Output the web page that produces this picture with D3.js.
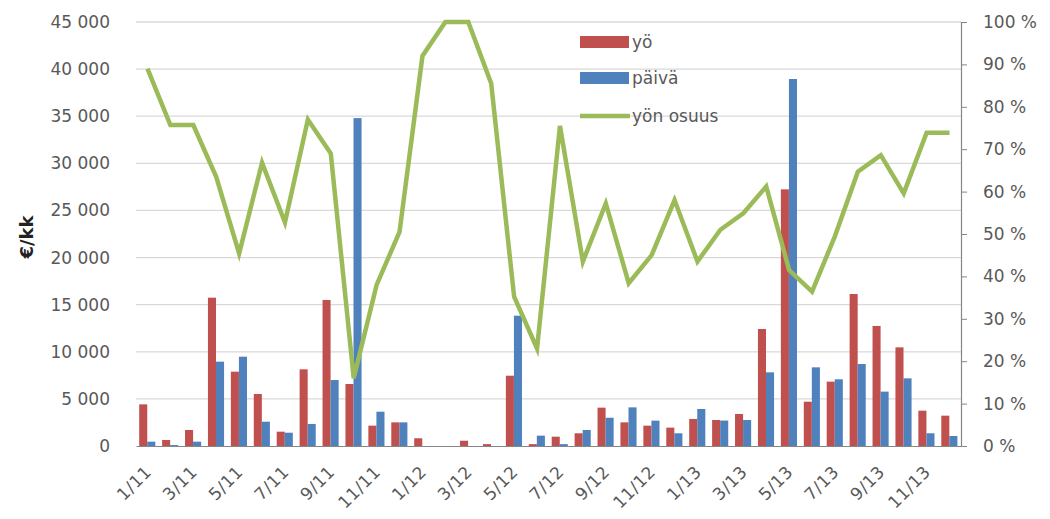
<!DOCTYPE html>
<html>
<head>
<meta charset="utf-8">
<script src="https://cdn.jsdelivr.net/npm/d3@7"></script>
<style>
  body { margin: 0; background: #fff; }
  svg text { font-family: "DejaVu Sans", Verdana, sans-serif; }
</style>
</head>
<body>
<div class="graph-bd" style="width:1050px;height:519px"></div>
<script>
// data
const months = [
    "1/11","2/11","3/11","4/11","5/11","6/11","7/11","8/11","9/11","10/11","11/11","12/11",
    "1/12","2/12","3/12","4/12","5/12","6/12","7/12","8/12","9/12","10/12","11/12","12/12",
    "1/13","2/13","3/13","4/13","5/13","6/13","7/13","8/13","9/13","10/13","11/13","12/13"
];
const yo = [
    4420, 640, 1700, 15740, 7890, 5520, 1520, 8140, 15500, 6580, 2160, 2510,
    820, 0, 560, 200, 7460, 200, 990, 1350, 4070, 2510, 2160, 1950,
    2870, 2760, 3400, 12420, 27240, 4700, 6830, 16130, 12740, 10470, 3750, 3220
];
const paiva = [
    460, 100, 460, 8950, 9480, 2580, 1410, 2340, 7000, 34800, 3640, 2510,
    0, 0, 0, 0, 13830, 1100, 200, 1700, 3000, 4100, 2690, 1350,
    3930, 2700, 2760, 7820, 38950, 8350, 7080, 8700, 5770, 7180, 1350, 1060
];
const yonOsuus = [
    0.89, 0.757, 0.757, 0.635, 0.454, 0.668, 0.527, 0.77, 0.69, 0.16, 0.38, 0.505,
    0.92, 1.0, 1.0, 0.855, 0.352, 0.23, 0.755, 0.435, 0.572, 0.384, 0.45, 0.58,
    0.435, 0.51, 0.549, 0.612, 0.415, 0.364, 0.495, 0.647, 0.686, 0.596, 0.739, 0.739
];
const leftTicks = [0, 5000, 10000, 15000, 20000, 25000, 30000, 35000, 40000, 45000];
const rightTicks = [0, 0.1, 0.2, 0.3, 0.4, 0.5, 0.6, 0.7, 0.8, 0.9, 1.0];
const seriesNames = ["yö", "päivä", "yön osuus"];

function run() {
    let root = document.querySelector('.graph-bd')
    let w = 1050, h = 519
    let left = 136, right = 961, top = 22, bottom = 446
    let red = "#c0504d", blue = "#4f81bd", green = "#9bbb59", txt = "#595959"

    let svg = d3.select(root).append("svg")
        .attr("width", w)
        .attr("height", h);

    let x0 = d3.scaleBand().domain(months).range([left, right]).padding(0);
    let x1 = d3.scaleBand().domain([0, 1]).range([3.2, x0.bandwidth() - 3.6]);
    let yL = d3.scaleLinear().domain([0, 45000]).range([bottom, top]);
    let yR = d3.scaleLinear().domain([0, 1]).range([bottom, top]);

    // gridlines
    svg.append("g").selectAll("line")
        .data(leftTicks.slice(1))
        .enter().append("line")
        .attr("x1", left).attr("x2", right)
        .attr("y1", d => yL(d)).attr("y2", d => yL(d))
        .attr("stroke", "#d9d9d9").attr("stroke-width", 1.3);

    // left axis labels
    let fmt = d => d3.format(",")(d).replace(/,/g, " ");
    let gl = svg.append("g")
        .attr("transform", "translate(" + (left - 2) + ",0)")
        .call(d3.axisLeft(yL).tickValues(leftTicks).tickFormat(fmt).tickSize(0).tickPadding(24));
    gl.select(".domain").remove();
    gl.selectAll("text").attr("font-size", "17px").attr("fill", txt)
        .style("font-family", "DejaVu Sans, sans-serif");

    // right axis
    let gr = svg.append("g")
        .attr("transform", "translate(" + right + ",0)")
        .call(d3.axisRight(yR).tickValues(rightTicks).tickFormat(d => Math.round(d * 100) + " %").tickSize(6).tickPadding(16));
    gr.select(".domain").attr("stroke", "#868686").attr("stroke-width", 1.2);
    gr.selectAll(".tick line").attr("stroke", "#868686");
    gr.selectAll("text").attr("font-size", "17px").attr("fill", txt)
        .style("font-family", "DejaVu Sans, sans-serif");

    // bars
    let groups = svg.append("g").selectAll("g")
        .data(months)
        .enter().append("g")
        .attr("transform", d => "translate(" + x0(d) + ",0)");
    groups.append("rect")
        .attr("x", x1(0))
        .attr("width", x1.bandwidth())
        .attr("y", (d, i) => yL(yo[i]))
        .attr("height", (d, i) => bottom - yL(yo[i]))
        .attr("fill", red);
    groups.append("rect")
        .attr("x", x1(1))
        .attr("width", x1.bandwidth())
        .attr("y", (d, i) => yL(paiva[i]))
        .attr("height", (d, i) => bottom - yL(paiva[i]))
        .attr("fill", blue);

    // bottom axis
    let gx = svg.append("g")
        .attr("transform", "translate(0," + bottom + ")")
        .call(d3.axisBottom(x0).tickSize(0).tickFormat((d, i) => i % 2 == 0 ? d : ""));
    gx.select(".domain").attr("stroke", "#868686").attr("stroke-width", 1.2);
    gx.selectAll("text")
        .attr("font-size", "17px").attr("fill", txt)
        .style("font-family", "DejaVu Sans, sans-serif")
        .style("letter-spacing", "0.5px")
        .attr("text-anchor", "end")
        .attr("dy", null)
        .attr("y", 0)
        .attr("transform", "translate(5,27) rotate(-45)");

    // line
    let line = d3.line()
        .x((d, i) => x0(months[i]) + x0.bandwidth() / 2)
        .y(d => yR(d));
    svg.append("path")
        .datum(yonOsuus)
        .attr("d", line)
        .attr("fill", "none")
        .attr("stroke", green)
        .attr("stroke-width", 4.5)
        .attr("stroke-linejoin", "miter");

    // y title
    svg.append("text")
        .attr("transform", "translate(33,237) rotate(-90)")
        .attr("text-anchor", "middle")
        .attr("font-size", "18px")
        .attr("font-weight", "bold")
        .attr("fill", "#222")
        .text("€/kk");

    // legend
    let lg = svg.append("g").attr("transform", "translate(580,0)");
    let ly = [42, 78, 116];
    lg.append("rect").attr("x", 0).attr("y", ly[0] - 6).attr("width", 49).attr("height", 12).attr("fill", red);
    lg.append("rect").attr("x", 0).attr("y", ly[1] - 6).attr("width", 49).attr("height", 12).attr("fill", blue);
    lg.append("line").attr("x1", 0).attr("x2", 50).attr("y1", ly[2]).attr("y2", ly[2])
        .attr("stroke", green).attr("stroke-width", 4.5);
    lg.selectAll("text.lg")
        .data(seriesNames)
        .enter().append("text")
        .attr("class", "lg")
        .attr("x", 52)
        .attr("y", (d, i) => ly[i] + 6)
        .attr("font-size", "17px")
        .attr("fill", txt)
        .text(d => d);
}
window.addEventListener('load', run)
</script>
</body>
</html>
